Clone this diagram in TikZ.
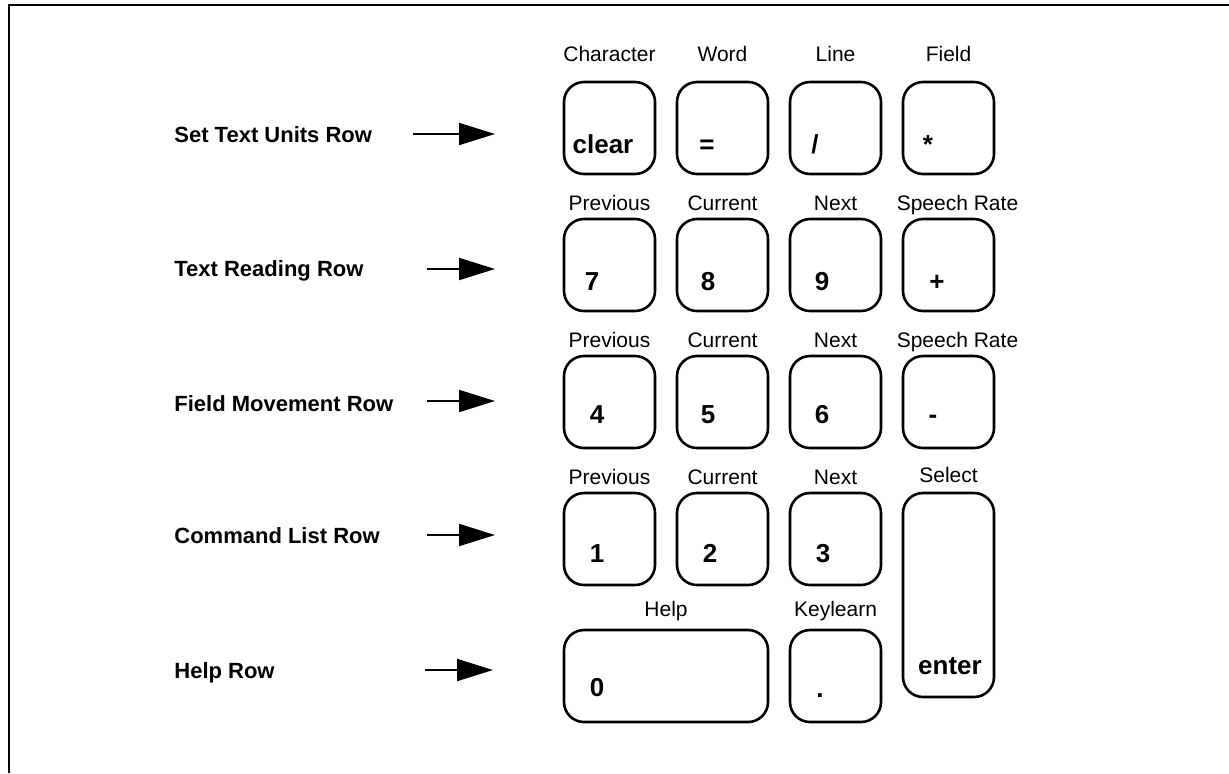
\documentclass[tikz,border=0pt]{standalone}
\usepackage{fontspec}
\setmainfont{Liberation Sans}
\usepackage{xcolor}
\usepackage{tikz}
\usetikzlibrary{arrows.meta,positioning}

\tikzset{
  keycap/.style={draw, line width=1.3pt, rounded corners=10pt, minimum width=45.5pt,
    minimum height=46pt, inner sep=0pt, outer sep=0pt},
  captext/.style={font=\fontsize{13}{13}\selectfont\bfseries, inner sep=0pt,
    text height=9.3pt, text depth=0pt},
  capname/.style={font=\fontsize{10.5}{10.5}\selectfont, inner sep=0pt,
    text height=7.5pt, text depth=0pt},
  rowname/.style={font=\fontsize{11}{11}\selectfont\bfseries, anchor=west, inner sep=0pt,
    text height=7.9pt, text depth=0pt},
  rowarrow/.style={line width=1pt, -{Triangle[length=18pt,width=11pt]}}
}

\begin{document}
\begin{tikzpicture}[x=0.5pt, y=-0.5pt, node distance=11pt]
    \useasboundingbox (0,0) rectangle (1229,773);
    \draw[line width=1.2pt] (1229,5) -| (9,773);

    % keypad
    \node[keycap] (clear) at (609.5,128) {};
    \node[keycap] (equal) [right=11pt of clear] {};
    \node[keycap] (slash) [right=11pt of equal] {};
    \node[keycap] (star) [right=11pt of slash] {};
    \node[keycap] (k7) [below=22.5pt of clear] {};
    \node[keycap] (k8) [right=11pt of k7] {};
    \node[keycap] (k9) [right=11pt of k8] {};
    \node[keycap] (plus) [right=11pt of k9] {};
    \node[keycap] (k4) [below=22.5pt of k7] {};
    \node[keycap] (k5) [right=11pt of k4] {};
    \node[keycap] (k6) [right=11pt of k5] {};
    \node[keycap] (minus) [right=11pt of k6] {};
    \node[keycap] (k1) [below=22.5pt of k4] {};
    \node[keycap] (k2) [right=11pt of k1] {};
    \node[keycap] (k3) [right=11pt of k2] {};
    \node[keycap, minimum height=102pt] (enter) [below=22.5pt of minus] {};
    \node[keycap, minimum width=102pt] (k0) [below=22.5pt of k1.south west, anchor=north west] {};
    \node[keycap] (dot) [below=22.5pt of k3] {};

    \node[captext] (tclear) at ([shift={(-6.5,16.5)}]clear.center) {clear};
    \node[captext] (tequal) at ([shift={(-15.5,16.5)}]equal.center) {=};
    \node[captext] (tslash) at ([shift={(-20.5,16.5)}]slash.center) {/};
    \node[captext] (tstar) at ([shift={(-20.5,16.5)}]star.center) {*};
    \node[captext] (t7) at ([shift={(-17.5,16)}]k7.center) {7};
    \node[captext] (t8) at ([shift={(-14.5,16)}]k8.center) {8};
    \node[captext] (t9) at ([shift={(-13.5,16)}]k9.center) {9};
    \node[captext] (tplus) at ([shift={(-11.5,16)}]plus.center) {+};
    \node[captext] (t4) at ([shift={(-12.5,12)}]k4.center) {4};
    \node[captext] (t5) at ([shift={(-14.5,12)}]k5.center) {5};
    \node[captext] (t6) at ([shift={(-13.5,12)}]k6.center) {6};
    \node[captext] (tminus) at ([shift={(-15.5,12)}]minus.center) {-};
    \node[captext] (t1) at ([shift={(-12.5,14)}]k1.center) {1};
    \node[captext] (t2) at ([shift={(-12.5,14)}]k2.center) {2};
    \node[captext] (t3) at ([shift={(-12.5,14)}]k3.center) {3};
    \node[captext] (tenter) at ([shift={(1.5,70)}]enter.center) {enter};
    \node[captext] (t0) at ([shift={(-69,11.5)}]k0.center) {0};
    \node[captext] (tdot) at ([shift={(-15.5,12)}]dot.center) {.};

    % what each key does
    \node[capname] (nclear) [above=10pt of clear] {Character};
    \node[capname] (nequal) [above=10pt of equal] {Word};
    \node[capname] (nslash) [above=10pt of slash] {Line};
    \node[capname] (nstar) [above=10pt of star] {Field};
    \node[capname] (n7) [above=4.25pt of k7] {Previous};
    \node[capname] (n8) [above=4.25pt of k8] {Current};
    \node[capname] (n9) [above=4.25pt of k9] {Next};
    \node[capname] (nplus) [above=4.25pt of plus, xshift=4.5pt] {Speech Rate};
    \node[capname] (n4) [above=4.25pt of k4] {Previous};
    \node[capname] (n5) [above=4.25pt of k5] {Current};
    \node[capname] (n6) [above=4.25pt of k6] {Next};
    \node[capname] (nminus) [above=4.25pt of minus, xshift=4.5pt] {Speech Rate};
    \node[capname] (n1) [above=4.25pt of k1] {Previous};
    \node[capname] (n2) [above=4.25pt of k2] {Current};
    \node[capname] (n3) [above=4.25pt of k3] {Next};
    \node[capname] (nenter) [above=5pt of enter] {Select};
    \node[capname] (n0) [above=6.5pt of k0] {Help};
    \node[capname] (ndot) [above=6.5pt of dot] {Keylearn};

    % rows
    \node[rowname] (units) at (174,135) {Set Text Units Row};
    \node[rowname] (reading) at (174,268.5) {Text Reading Row};
    \node[rowname] (movement) at (174,404) {Field Movement Row};
    \node[rowname] (command) at (174,535.5) {Command List Row};
    \node[rowname] (help) at (174,670.5) {Help Row};

    \coordinate (units-a) at (413,134);
    \coordinate (units-b) at (495,134);
    \coordinate (reading-a) at (427,269);
    \coordinate (reading-b) at (495,269);
    \coordinate (movement-a) at (427,401);
    \coordinate (movement-b) at (495,401);
    \coordinate (command-a) at (427,535);
    \coordinate (command-b) at (495,535);
    \coordinate (help-a) at (425,670);
    \coordinate (help-b) at (493,670);

    \draw[rowarrow] (units-a) -- (units-b);
    \draw[rowarrow] (reading-a) -- (reading-b);
    \draw[rowarrow] (movement-a) -- (movement-b);
    \draw[rowarrow] (command-a) -- (command-b);
    \draw[rowarrow] (help-a) -- (help-b);
\end{tikzpicture}
\end{document}
